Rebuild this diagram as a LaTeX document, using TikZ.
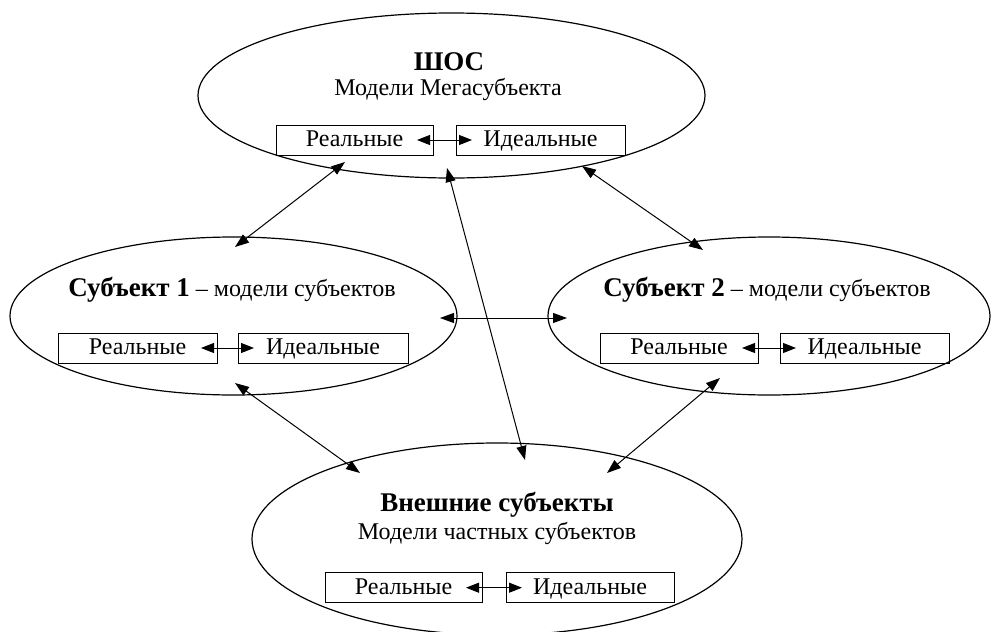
\documentclass[tikz,border=0pt]{standalone}
\usepackage{fontspec}
\setmainfont{Liberation Serif}
\usetikzlibrary{shapes.geometric,arrows.meta,calc}
\tikzset{
  oval/.style={ellipse,draw,line width=0.6pt,inner sep=0pt,outer sep=0pt},
  rbox/.style={rectangle,draw,line width=0.5pt,minimum height=15pt,inner sep=0pt,outer sep=0pt,
    text height=9pt,text depth=2.3pt,font=\fontsize{12}{14}\selectfont},
  txt/.style={inner sep=0pt,anchor=base,font=\fontsize{12}{14}\selectfont},
  btxt/.style={inner sep=0pt,anchor=base,font=\fontsize{13.5}{16}\selectfont\bfseries},
  bigarr/.style={line width=0.5pt,{Triangle[length=7pt,width=5pt]}-{Triangle[length=7pt,width=5pt]}},
  smallarr/.style={line width=0.5pt,{Triangle[length=6.5pt,width=5pt]}-{Triangle[length=6.5pt,width=5pt]},
    shorten <=-8pt,shorten >=-8pt}
}
\begin{document}
\begin{tikzpicture}[x=0.5pt,y=-0.5pt]
\useasboundingbox (0,0) rectangle (992,632);
% ellipses
\node[oval,minimum width=253.5pt,minimum height=82.5pt] (e0) at (451.5,95.5) {};
\node[oval,minimum width=223.5pt,minimum height=79pt] (e1) at (233.5,316) {};
\node[oval,minimum width=221pt,minimum height=79pt] (e2) at (769,316) {};
\node[oval,minimum width=245pt,minimum height=96pt] (e3) at (497,539) {};
% texts
\node[btxt] (t0a) at (449,70) {ШОС};
\node[txt] (t0b) at (448,95) {Модели Мегасубъекта};
\node[txt] (t1) at (232,296.5) {\textbf{\fontsize{13.5}{16}\selectfont Субъект 1} – модели субъектов};
\node[txt] (t2) at (767,296.5) {\textbf{\fontsize{13.5}{16}\selectfont Субъект 2} – модели субъектов};
\node[btxt] (t3a) at (497,511.5) {Внешние субъекты};
\node[txt] (t3b) at (497,539) {Модели частных субъектов};
% boxes
\node[rbox,minimum width=78.5pt] (r0) at (354.5,140) {Реальные};
\node[rbox,minimum width=84.5pt] (i0) at (540.5,140) {Идеальные};
\node[rbox,minimum width=79.5pt] (r1) at (137.5,348) {Реальные};
\node[rbox,minimum width=85pt] (i1) at (323,348) {Идеальные};
\node[rbox,minimum width=79pt] (r2) at (679,348) {Реальные};
\node[rbox,minimum width=84.5pt] (i2) at (864.5,348) {Идеальные};
\node[rbox,minimum width=78.5pt] (r3) at (403.5,587.7) {Реальные};
\node[rbox,minimum width=84pt] (i3) at (590,587.7) {Идеальные};
% box arrows
\draw[smallarr] (r0) -- (i0);
\draw[smallarr] (r1) -- (i1);
\draw[smallarr] (r2) -- (i2);
\draw[smallarr] (r3) -- (i3);
% connectors between ellipses
\draw[bigarr] ($(e1.center)+(1.5,-69)$) -- ($(e0.center)+(-106.5,66.5)$);
\draw[bigarr] ($(e0.center)+(-4.5,72.5)$) -- ($(e3.center)+(28,-79)$);
\draw[bigarr] ($(e0.center)+(130.5,70.5)$) -- ($(e2.center)+(-66,-66)$);
\draw[bigarr] ($(e1.center)+(1.5,67)$) -- ($(e3.center)+(-137,-66)$);
\draw[bigarr] ($(e2.center)+(-49,62)$) -- ($(e3.center)+(110,-66)$);
\draw[bigarr] ($(e1.center)+(206.5,2)$) -- ($(e2.center)+(-202,2)$);
\end{tikzpicture}
\end{document}
